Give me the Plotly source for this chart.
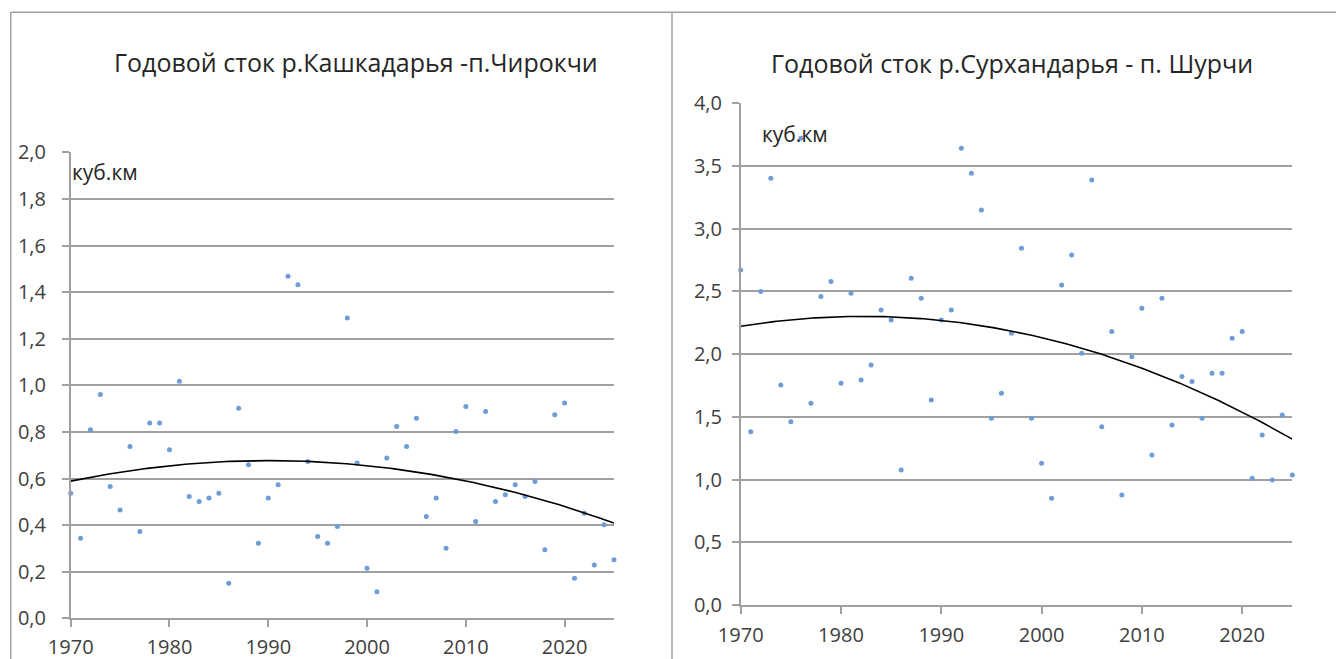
import numpy as np
import plotly.graph_objects as go

years = list(range(1970, 2026))

kashkadarya = [0.537, 0.344, 0.809, 0.960, 0.566, 0.465, 0.737, 0.372, 0.838, 0.838,
               0.723, 1.017, 0.523, 0.501, 0.516, 0.537, 0.150, 0.902, 0.659, 0.322,
               0.516, 0.573, 1.468, 1.432, 0.673, 0.351, 0.322, 0.394, 1.289, 0.666,
               0.215, 0.114, 0.688, 0.823, 0.737, 0.859, 0.437, 0.516, 0.301, 0.802,
               0.909, 0.415, 0.888, 0.501, 0.530, 0.573, 0.523, 0.587, 0.294, 0.874,
               0.924, 0.172, 0.451, 0.229, 0.401, 0.251]

surkhandarya = [2.671, 1.382, 2.499, 3.403, 1.754, 1.462, 3.722, 1.608, 2.459, 2.579,
                1.768, 2.486, 1.794, 1.914, 2.352, 2.273, 1.077, 2.605, 2.446, 1.635,
                2.273, 2.352, 3.642, 3.443, 3.150, 1.489, 1.688, 2.167, 2.845, 1.489,
                1.130, 0.851, 2.552, 2.791, 2.007, 3.389, 1.422, 2.180, 0.877, 1.980,
                2.366, 1.196, 2.446, 1.435, 1.821, 1.781, 1.489, 1.848, 1.848, 2.127,
                2.180, 1.010, 1.356, 0.997, 1.515, 1.037]

title_left = "Годовой сток р.Кашкадарья -п.Чирокчи"
title_right = "Годовой сток р.Сурхандарья - п. Шурчи"
unit_label = "куб.км"
x_ticks = [1970, 1980, 1990, 2000, 2010, 2020]
y_ticks_left = [0.0, 0.2, 0.4, 0.6, 0.8, 1.0, 1.2, 1.4, 1.6, 1.8, 2.0]
y_ticks_right = [0.0, 0.5, 1.0, 1.5, 2.0, 2.5, 3.0, 3.5, 4.0]

W, H = 1336, 659
FONT = "Open Sans"
GRID = "#a0a0a0"
MARK = "#6f9cd6"


def trend(x, y):
    c = np.polyfit(np.array(x, dtype=float) - 1970, np.array(y), 2)
    xs = np.linspace(1970, 2025, 200)
    return xs, np.polyval(c, xs - 1970)


fig = go.Figure()

for ax, ys in (("", kashkadarya), ("2", surkhandarya)):
    fig.add_trace(go.Scatter(x=years, y=ys, mode="markers", xaxis="x" + ax, yaxis="y" + ax,
                             marker=dict(size=5, color=MARK, line=dict(width=0)),
                             cliponaxis=False, showlegend=False, hoverinfo="x+y"))
    tx, ty = trend(years, ys)
    fig.add_trace(go.Scatter(x=tx, y=ty, mode="lines", xaxis="x" + ax, yaxis="y" + ax,
                             line=dict(color="black", width=1.6), showlegend=False,
                             hoverinfo="skip"))


def px(x):
    return x / W


def py(y):
    return 1 - y / H


axis_common = dict(showline=True, linecolor=GRID, linewidth=1.5, zeroline=False,
                   ticks="outside", tickcolor=GRID, tickwidth=1.5, ticklen=7,
                   automargin=False,
                   tickfont=dict(family=FONT, size=20, color="#404040"))

fig.update_layout(
    template=None,
    width=W, height=H, margin=dict(l=0, r=0, t=0, b=0, autoexpand=False),
    paper_bgcolor="white", plot_bgcolor="white",
    separators=", ",
    font=dict(family=FONT, color="#262626"),
    xaxis=dict(domain=[px(70.7), px(614)], range=[1970, 2025], tickvals=x_ticks,
               showgrid=False, anchor="y", ticklabelstandoff=3, **axis_common),
    yaxis=dict(domain=[py(618.3), py(152.3)], range=[0, 2.0], tickvals=y_ticks_left,
               tickformat=".1f", showgrid=True, gridcolor=GRID, gridwidth=1.5,
               anchor="x", ticklabelstandoff=12, **axis_common),
    xaxis2=dict(domain=[px(740.7), px(1292.3)], range=[1970, 2025], tickvals=x_ticks,
                showgrid=False, anchor="y2", ticklabelstandoff=4, **axis_common),
    yaxis2=dict(domain=[py(605), py(103.3)], range=[0, 4.0], tickvals=y_ticks_right,
                tickformat=".1f", showgrid=True, gridcolor=GRID, gridwidth=1.5,
                anchor="x2", ticklabelstandoff=6, **axis_common),
    hovermode="closest",
)

annotations = [
    dict(text=title_left, x=px(356), y=py(62), xref="paper", yref="paper",
         showarrow=False, font=dict(family=FONT, size=25, color="#262626"),
         xanchor="center", yanchor="middle"),
    dict(text=title_right, x=px(1012), y=py(63), xref="paper", yref="paper",
         showarrow=False, font=dict(family=FONT, size=25, color="#262626"),
         xanchor="center", yanchor="middle"),
    dict(text=unit_label, x=px(70), y=py(172), xref="paper", yref="paper",
         showarrow=False, font=dict(family=FONT, size=21, color="#262626"),
         xanchor="left", yanchor="middle"),
    dict(text=unit_label, x=px(760), y=py(134), xref="paper", yref="paper",
         showarrow=False, font=dict(family=FONT, size=21, color="#262626"),
         xanchor="left", yanchor="middle"),
]
fig.update_layout(annotations=annotations)

border = dict(color="#a0a0a0", width=1.5)
fig.update_layout(shapes=[
    dict(type="line", xref="paper", yref="paper", x0=px(10.7), x1=1, y0=py(12.3), y1=py(12.3), line=border),
    dict(type="line", xref="paper", yref="paper", x0=px(10.7), x1=px(10.7), y0=py(12.3), y1=0, line=border),
    dict(type="line", xref="paper", yref="paper", x0=px(672), x1=px(672), y0=py(12.3), y1=0, line=border),
])

fig.write_html("out.html", config={"displayModeBar": False},
               post_script="document.body.style.margin='0';document.body.style.overflow='hidden';")
